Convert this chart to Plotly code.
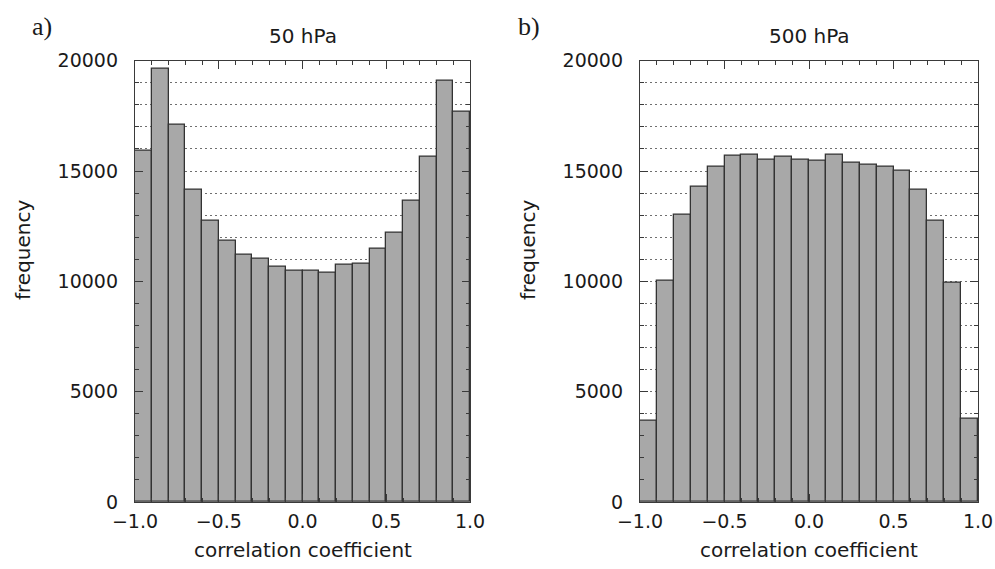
import numpy as np
import plotly.graph_objects as go

# ---- data ----
bin_edges = np.round(np.linspace(-1.0, 1.0, 21), 2)
bin_centers = np.round((bin_edges[:-1] + bin_edges[1:]) / 2, 3)

freq_50hpa = [15900, 19650, 17090, 14160, 12730, 11830, 11210, 11030, 10670, 10470,
              10470, 10390, 10750, 10810, 11460, 12190, 13650, 15630, 19100, 17680]
freq_500hpa = [3700, 10010, 13030, 14310, 15180, 15700, 15760, 15520, 15630, 15520,
               15480, 15730, 15370, 15290, 15180, 15020, 14160, 12760, 9930, 3780]

panel_titles = ["50 hPa", "500 hPa"]
panel_letters = ["a)", "b)"]
x_ticks = [-1.0, -0.5, 0.0, 0.5, 1.0]
x_ticktext = ["\u22121.0", "\u22120.5", "0.0", "0.5", "1.0"]
y_ticks = [0, 5000, 10000, 15000, 20000]
y_ticktext = ["0", "5000", "10000", "15000", "20000"]

# ---- style ----
BAR_FILL = "#a8a8a8"
BAR_EDGE = "#333333"
FRAME = "#3a3a3a"
GRID = "#6f6f6f"
TXT = "#1a1a1a"
SANS = "DejaVu Sans"
SERIF = "Liberation Serif"

fig = go.Figure()
for i, vals in enumerate([freq_50hpa, freq_500hpa]):
    sfx = "" if i == 0 else "2"
    fig.add_trace(go.Bar(
        x=bin_centers, y=vals, width=0.1,
        marker=dict(color=BAR_FILL, line=dict(color=BAR_EDGE, width=1.3)),
        xaxis="x" + sfx, yaxis="y" + sfx, showlegend=False,
        hoverinfo="x+y",
    ))

domains = [(135 / 995, 470 / 995), (640 / 995, 978 / 995)]
ydom = ((569 - 502) / 569, (569 - 60.7) / 569)

common_x = dict(
    range=[-1.0, 1.0], tickvals=x_ticks, ticktext=x_ticktext,
    ticks="inside", ticklen=8, tickwidth=1, tickcolor=FRAME,
    minor=dict(dtick=0.1, tick0=0, ticks="inside", ticklen=4, tickcolor=FRAME),
    showline=True, linecolor=FRAME, linewidth=1.3, mirror="allticks",
    showgrid=False, zeroline=False, automargin=False,
    tickfont=dict(family=SANS, size=19, color=TXT),
    ticklabelstandoff=2,
)
common_y = dict(
    range=[0, 20000], tickvals=y_ticks, ticktext=y_ticktext,
    ticks="inside", ticklen=8, tickwidth=1, tickcolor=FRAME,
    minor=dict(dtick=1000, tick0=0, ticks="inside", ticklen=4, tickcolor=FRAME,
               showgrid=True, gridcolor=GRID, griddash="2px,3px", gridwidth=1),
    showline=True, linecolor=FRAME, linewidth=1.3, mirror="allticks",
    showgrid=True, gridcolor=GRID, griddash="2px,3px", gridwidth=1, zeroline=False,
    automargin=False,
    tickfont=dict(family=SANS, size=19, color=TXT),
    ticklabelstandoff=12,
)

fig.update_layout(
    width=995, height=569,
    margin=dict(l=0, r=0, t=0, b=0),
    paper_bgcolor="white", plot_bgcolor="white",
    bargap=0,
    xaxis=dict(domain=domains[0], anchor="y", **common_x),
    yaxis=dict(domain=ydom, anchor="x", **common_y),
    xaxis2=dict(domain=domains[1], anchor="y2", **common_x),
    yaxis2=dict(domain=ydom, anchor="x2", **common_y),
)

def px(x):
    return x / 995

def py(y):
    return (569 - y) / 569

for i in range(2):
    cx = (domains[i][0] + domains[i][1]) / 2
    fig.add_annotation(text=panel_titles[i], x=cx, y=py(36), xref="paper", yref="paper",
                       showarrow=False, font=dict(family=SANS, size=20, color=TXT),
                       xanchor="center", yanchor="middle")
    fig.add_annotation(text="correlation coefficient", x=cx, y=py(550), xref="paper", yref="paper",
                       showarrow=False, font=dict(family=SANS, size=20, color=TXT),
                       xanchor="center", yanchor="middle")
for xc in [23, 528]:
    fig.add_annotation(text="frequency", x=px(xc), y=py(250), xref="paper", yref="paper",
                       showarrow=False, textangle=-90, font=dict(family=SANS, size=20, color=TXT),
                       xanchor="center", yanchor="middle")
for txt, xc in zip(panel_letters, [42, 529]):
    fig.add_annotation(text=txt, x=px(xc), y=py(26), xref="paper", yref="paper",
                       showarrow=False, font=dict(family=SERIF, size=26, color=TXT),
                       xanchor="center", yanchor="middle")

fig.write_html(
    "out.html",
    config={"displayModeBar": False},
    post_script="document.body.style.margin='0';document.body.style.overflow='hidden';",
)
